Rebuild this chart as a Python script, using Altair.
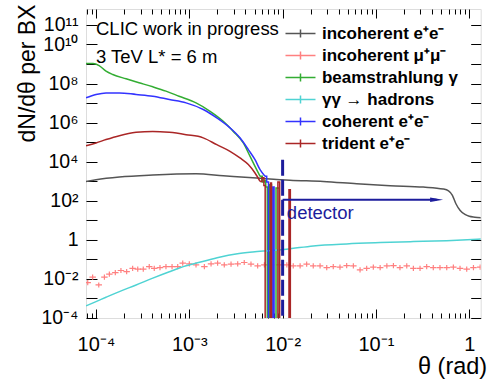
import math
import altair as alt
import pandas as pd

# ---------------- data ----------------
names = ["incoherent e⁺e⁻", "incoherent μ⁺μ⁻", "beamstrahlung γ",
         "γγ → hadrons", "coherent e⁺e⁻", "trident e⁺e⁻"]
colors = ["#555555", "#ff8080", "#33ad33", "#4fd3d3", "#3333ff", "#aa2626"]

grey_x = [7.82e-5, 1.0e-4, 1.78e-4, 4.06e-4, 1.18e-3, 2.31e-3, 5.27e-3, 1.2e-2,
          2.73e-2, 6.22e-2, 0.142, 0.322, 0.527, 0.60, 0.66, 0.72, 0.80, 0.90,
          1.0, 1.15, 1.34]
grey_y = [977, 1200, 1660, 2090, 2400, 1910, 1450, 1120, 977, 741, 589, 501,
          398, 320, 190, 70, 32, 20, 16, 14.5, 13.5]

pink_x = [8.15e-5, 9.2e-5, 1.07e-4, 1.23e-4, 1.39e-4, 1.61e-4, 1.85e-4, 2.13e-4,
          2.47e-4, 2.80e-4, 3.21e-4, 3.72e-4, 4.21e-4, 4.85e-4, 5.62e-4, 6.53e-4,
          7.51e-4, 8.5e-4, 1.0e-3, 1.18e-3, 1.45e-3, 1.71e-3, 2.01e-3, 2.37e-3,
          2.80e-3, 3.30e-3, 3.88e-3, 4.58e-3, 5.40e-3, 6.37e-3, 7.52e-3, 9.22e-3,
          1.11e-2, 1.30e-2, 1.54e-2, 1.81e-2, 2.13e-2, 2.52e-2, 2.97e-2, 3.49e-2,
          4.12e-2, 4.86e-2, 5.73e-2, 6.76e-2, 7.96e-2, 9.38e-2, 0.111, 0.131,
          0.154, 0.181, 0.214, 0.252, 0.297, 0.350, 0.412, 0.486, 0.574, 0.676,
          0.797, 0.94, 1.11, 1.31]
pink_y = [6.5e-3, 1.23e-2, 4.9e-3, 1.23e-2, 1.74e-2, 2.1e-2, 2.7e-2, 2.35e-2,
          3.5e-2, 3.2e-2, 3.2e-2, 4.3e-2, 3.5e-2, 3.8e-2, 4.3e-2, 4.3e-2,
          4.3e-2, 6.4e-2, 5.9e-2, 5.2e-2, 4.3e-2, 5.9e-2, 6.4e-2, 5.2e-2,
          5.7e-2, 5.9e-2, 6.9e-2, 5.7e-2, 4.6e-2, 5.2e-2, 5.2e-2, 5.2e-2,
          5.2e-2, 4.6e-2, 4.6e-2, 5.7e-2, 4.6e-2, 4.6e-2, 3.8e-2, 4.3e-2,
          4.0e-2, 4.8e-2, 4.6e-2, 2.9e-2, 3.5e-2, 4.0e-2, 3.8e-2, 4.6e-2,
          4.8e-2, 3.8e-2, 4.6e-2, 3.5e-2, 3.5e-2, 4.3e-2, 3.8e-2, 3.8e-2,
          3.8e-2, 4.0e-2, 3.5e-2, 3.2e-2, 3.8e-2, 4.0e-2]

green_x = [7.82e-5, 9.29e-5, 1.08e-4, 1.28e-4, 1.51e-4, 2.10e-4, 2.89e-4, 4.06e-4,
           5.62e-4, 7.76e-4, 1.18e-3, 1.67e-3, 2.31e-3, 2.96e-3, 3.79e-3, 4.48e-3,
           5.06e-3, 5.73e-3]
green_y = [1.07e9, 1.07e9, 8.3e8, 4.27e8, 2.88e8, 1.74e8, 1.10e8, 6.76e7, 4.07e7,
           2.24e7, 1.02e7, 3.8e6, 1.17e6, 3.55e5, 9.12e4, 1.86e4, 5.75e3, 1.78e3]
green_tail_x = [5.73e-3, 6.05e-3, 6.35e-3, 6.6e-3, 6.85e-3, 7.2e-3, 7.6e-3, 8.5e-3,
                9.2e-3, 9.6e-3]
green_tail_y = [1.78e3, 9.0e2, 1.1e3, 5.0e2, 1e-9, 6.5e2, 1e-9, 4.5e2, 1e-9, 1e-9]

cyan_x = [7.82e-5, 1.0e-4, 1.28e-4, 1.78e-4, 2.69e-4, 4.06e-4, 6.11e-4, 9.23e-4,
          1.39e-3, 2.10e-3, 3.16e-3, 4.78e-3, 7.19e-3, 1.09e-2, 2.13e-2, 4.86e-2,
          0.111, 0.252, 0.574, 1.34]
cyan_y = [4.2e-4, 6.9e-4, 1.15e-3, 2.24e-3, 4.9e-3, 1.10e-2, 2.34e-2, 4.68e-2,
          7.8e-2, 0.129, 0.19, 0.24, 0.28, 0.33, 0.49, 0.62, 0.72, 0.81, 0.91, 1.10]

blue_x = [7.82e-5, 1.0e-4, 1.28e-4, 1.78e-4, 2.69e-4, 4.06e-4, 6.11e-4, 9.23e-4,
          1.41e-3, 1.97e-3, 2.73e-3, 3.49e-3, 4.29e-3, 5.06e-3, 5.73e-3, 6.47e-3]
blue_y = [1.86e7, 2.75e7, 3.31e7, 3.31e7, 2.75e7, 2.24e7, 1.51e7, 1.02e7, 4.68e6,
          1.74e6, 5.37e5, 1.66e5, 4.17e4, 1.26e4, 3.89e3, 1.78e3]
blue_tail_x = [6.47e-3, 6.75e-3, 7.05e-3, 7.85e-3, 8.1e-3, 8.6e-3]
blue_tail_y = [1.78e3, 9.0e2, 1e-9, 5.0e2, 1e-9, 1e-9]

red_x = [7.82e-5, 1.0e-4, 1.28e-4, 1.78e-4, 2.69e-4, 4.06e-4, 6.11e-4, 9.23e-4,
         1.41e-3, 1.97e-3, 2.73e-3, 3.49e-3, 4.29e-3, 5.06e-3, 5.73e-3]
red_y = [6.6e4, 9.1e4, 1.35e5, 2.14e5, 3.16e5, 3.55e5, 3.16e5, 2.40e5, 1.66e5,
         7.4e4, 3.39e4, 1.55e4, 7.1e3, 2.63e3, 9.8e2]
red_tail_x = [5.73e-3, 6.0e-3, 6.3e-3, 6.5e-3, 7.4e-3, 7.6e-3, 8.9e-3, 9.3e-3,
              1.17e-2, 1.21e-2, 1.25e-2]
red_tail_y = [9.8e2, 1.5e3, 6.0e2, 1e-9, 8.0e2, 1e-9, 9.0e2, 1e-9, 3.7e2, 1e-9, 1e-9]

det_x = [1e-2]
det_y = [1.26e4]
det_y2 = [1e-4]
arrow_x = [1e-2]
arrow_x2 = [0.447]
arrow_y = [112]
head_x = [0.447]

ann_x = [1e-4, 1e-4]
ann_y = [5.9e10, 2.4e9]
ann_text = ["CLIC work in progress", "3 TeV L* = 6 m"]
det_text_x = [1.11e-2]
det_text_y = [24.3]
det_text = ["detector"]

x_major = [1e-4, 1e-3, 1e-2, 1e-1, 1.0]
x_labels = ["10⁻⁴", "10⁻³", "10⁻²", "10⁻¹", "1"]
x_minor = [k * 10.0 ** d for d in range(-5, 1) for k in range(2, 10)
           if 7.8e-5 < k * 10.0 ** d < 1.32]
y_label_vals = [1e-4, 1e-2, 1.0, 1e2, 1e4, 1e6, 1e8, 1e10, 1e11]
y_labels = ["10⁻⁴", "10⁻²", "1", "10²", "10⁴", "10⁶", "10⁸", "10¹⁰", "10¹¹"]
y_ticks = [10.0 ** e for e in range(-4, 12)]

# ---------------- chart ----------------
FONT = "Liberation Sans"
XDOM = [7.81e-5, 1.327]
YDOM = [1e-4, 6.5e11]
xs = alt.Scale(type="log", domain=XDOM, nice=False)
ys = alt.Scale(type="log", domain=YDOM, nice=False)


def label_expr(vals, labs):
    parts = [f"abs(log(datum.value)/LN10-({math.log10(v):.4f}))<0.01 ? '{l}'"
             for v, l in zip(vals, labs)]
    return " : ".join(parts) + " : ''"


def df(x, y, s=None):
    d = pd.DataFrame({"x": x, "y": y})
    if s is not None:
        d["series"] = s
    return d


NOAX = None
x_label_axis = alt.Axis(orient="bottom", values=x_major, labelExpr=label_expr(x_major, x_labels),
                        ticks=False, tickSize=0, domain=False, grid=False, labelFontSize=20,
                        labelFont=FONT, labelPadding=33, labelBaseline="alphabetic",
                        labelFlush=False, labelOverlap=False, labelColor="black",
                        title="θ (rad)", titleFont=FONT, titleFontSize=23.5,
                        titleFontWeight="normal", titleX=400.7, titleY=56,
                        titleAlign="right", titleBaseline="alphabetic", titleColor="black")
y_label_axis = alt.Axis(orient="left", values=y_label_vals, labelExpr=label_expr(y_label_vals, y_labels),
                        ticks=False, tickSize=0, domain=False, grid=False, labelFontSize=19.5,
                        labelFont=FONT, labelPadding=8, labelFlush=False, labelOverlap=False,
                        labelColor="black", title="dN/dθ per BX", titleFont=FONT,
                        titleFontSize=23, titleFontWeight="normal", titleAngle=270,
                        titleX=-51, titleY=-5, titleAlign="right", titleBaseline="alphabetic",
                        titleColor="black")


def tick_axis(orient, values, size):
    return alt.Axis(orient=orient, values=values, labels=False, domain=False, grid=False,
                    ticks=True, tickSize=size, offset=-size, tickColor="black", tickWidth=1,
                    title="")


def enc_x(axis=NOAX):
    return alt.X("x:Q", scale=xs, axis=axis)


def enc_y(axis=NOAX, field="y:Q"):
    return alt.Y(field, scale=ys, axis=axis)


legend = alt.Legend(orient="none", legendX=206, legendY=16, title=None, padding=0,
                    symbolType="M-3,0L3,0M0,-0.8L0,0.8", symbolSize=100,
                    symbolStrokeWidth=1.5, symbolFillColor="transparent",
                    labelFont=FONT, labelFontSize=17, labelFontWeight="bold",
                    labelColor="black", labelOffset=13, rowPadding=4, labelLimit=300)

grey = alt.Chart(df(grey_x, grey_y, names[0])).mark_line(
    strokeWidth=1.5, clip=True, interpolate="monotone").encode(
    x=enc_x(x_label_axis), y=enc_y(y_label_axis),
    color=alt.Color("series:N", scale=alt.Scale(domain=names, range=colors), legend=legend))

pink = alt.Chart(df(pink_x, pink_y)).mark_point(
    shape="M-1,0L1,0M0,-0.8L0,0.8", size=42, filled=False, strokeWidth=1.2,
    color=colors[1], opacity=1, clip=True).encode(
    x=enc_x(tick_axis("bottom", x_minor, 5)), y=enc_y(tick_axis("right", y_ticks, 10)))

green = alt.Chart(df(green_x, green_y)).mark_line(
    strokeWidth=1.5, color=colors[2], clip=True, interpolate="monotone").encode(
    x=enc_x(tick_axis("top", x_major, 9)), y=enc_y())
green_tail = alt.Chart(df(green_tail_x, green_tail_y)).mark_line(
    strokeWidth=1.5, color=colors[2], clip=True, interpolate="step-after").encode(
    x=enc_x(), y=enc_y())

cyan = alt.Chart(df(cyan_x, cyan_y)).mark_line(
    strokeWidth=1.5, color=colors[3], clip=True, interpolate="monotone").encode(
    x=enc_x(tick_axis("bottom", x_major, 9)), y=enc_y(tick_axis("left", y_ticks, 11)))

blue = alt.Chart(df(blue_x, blue_y)).mark_line(
    strokeWidth=1.5, color=colors[4], clip=True, interpolate="monotone").encode(
    x=enc_x(tick_axis("top", x_minor, 5)), y=enc_y())
blue_tail = alt.Chart(df(blue_tail_x, blue_tail_y)).mark_line(
    strokeWidth=1.5, color=colors[4], clip=True, interpolate="step-after").encode(
    x=enc_x(), y=enc_y())

red = alt.Chart(df(red_x, red_y)).mark_line(
    strokeWidth=1.5, color=colors[5], clip=True, interpolate="monotone").encode(
    x=enc_x(), y=enc_y())
red_tail = alt.Chart(df(red_tail_x, red_tail_y)).mark_line(
    strokeWidth=1.5, color=colors[5], clip=True, interpolate="step-after").encode(
    x=enc_x(), y=enc_y())

NAVY = "#1c1c9c"
det = alt.Chart(pd.DataFrame({"x": det_x, "y": det_y, "y2": det_y2})).mark_rule(
    color=NAVY, strokeWidth=3, strokeDash=[16, 4], clip=True).encode(
    x=enc_x(), y=enc_y(), y2="y2:Q")
arrow = alt.Chart(pd.DataFrame({"x": arrow_x, "x2": arrow_x2, "y": arrow_y})).mark_rule(
    color=NAVY, strokeWidth=2).encode(x=enc_x(), x2="x2:Q", y=enc_y())
head = alt.Chart(pd.DataFrame({"x": head_x, "y": arrow_y})).mark_point(
    shape="M-1,-0.35L1,0L-1,0.35Z", size=169, filled=True, color=NAVY, opacity=1).encode(
    x=enc_x(), y=enc_y())

ann = alt.Chart(pd.DataFrame({"x": ann_x, "y": ann_y, "t": ann_text})).mark_text(
    align="left", baseline="middle", font=FONT, fontSize=18.5, color="black").encode(
    x=enc_x(), y=enc_y(), text="t:N")
det_lbl = alt.Chart(pd.DataFrame({"x": det_text_x, "y": det_text_y, "t": det_text})).mark_text(
    align="left", baseline="middle", font=FONT, fontSize=18.5, color=NAVY).encode(
    x=enc_x(), y=enc_y(), text="t:N")

chart = alt.layer(grey, pink, green, green_tail, cyan, blue, blue_tail, red, red_tail,
                  det, arrow, head, ann, det_lbl).resolve_axis(
    x="independent", y="independent").properties(
    width=394.7, height=309, autosize=alt.AutoSizeParams(type="none"),
    padding={"left": 86, "top": 9, "right": 8, "bottom": 61},
    background="white").configure_view(stroke="black", strokeWidth=1.8).configure(
    font=FONT)

chart.save("out.html", embed_options={"renderer": "svg", "actions": False})
